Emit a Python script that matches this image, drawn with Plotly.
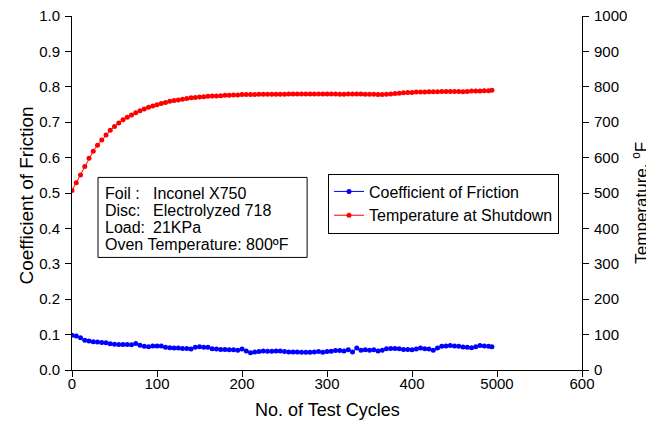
import plotly.graph_objects as go

# ---- data ----
cycles = [0, 5, 10, 15, 20, 25, 30, 35, 40, 45, 50, 55, 60, 65, 70, 75, 80, 85, 90, 95,
          100, 105, 110, 115, 120, 125, 130, 135, 140, 145, 150, 155, 160, 165, 170, 175, 180, 185, 190, 195,
          200, 205, 210, 215, 220, 225, 230, 235, 240, 245, 250, 255, 260, 265, 270, 275, 280, 285, 290, 295,
          300, 305, 310, 315, 320, 325, 330, 335, 340, 345, 350, 355, 360, 365, 370, 375, 380, 385, 390, 395,
          400, 405, 410, 415, 420, 425, 430, 435, 440, 445, 450, 455, 460, 465, 470, 475, 480, 485, 490, 494]

cof = [0.098, 0.096, 0.091, 0.084, 0.082, 0.080, 0.079, 0.078, 0.077, 0.074,
       0.073, 0.072, 0.072, 0.072, 0.071, 0.075, 0.070, 0.067, 0.066, 0.068,
       0.068, 0.068, 0.064, 0.063, 0.062, 0.062, 0.061, 0.061, 0.059, 0.064,
       0.066, 0.064, 0.064, 0.060, 0.059, 0.058, 0.058, 0.057, 0.057, 0.056,
       0.059, 0.054, 0.049, 0.051, 0.052, 0.054, 0.053, 0.053, 0.054, 0.054,
       0.052, 0.051, 0.051, 0.051, 0.050, 0.050, 0.050, 0.051, 0.052, 0.050,
       0.052, 0.053, 0.055, 0.055, 0.054, 0.057, 0.051, 0.062, 0.056, 0.057,
       0.056, 0.057, 0.054, 0.056, 0.060, 0.061, 0.061, 0.060, 0.058, 0.058,
       0.057, 0.059, 0.062, 0.060, 0.059, 0.056, 0.062, 0.067, 0.068, 0.069,
       0.068, 0.067, 0.065, 0.064, 0.063, 0.066, 0.069, 0.068, 0.067, 0.066]

temp = [507, 529, 551, 575, 598, 618, 635, 650, 664, 677,
        688, 698, 707, 714, 720, 727, 732, 737, 742, 746,
        749, 753, 756, 759, 761, 763, 765, 767, 769, 770,
        771, 772, 773, 774, 774, 775, 776, 776, 777, 777,
        778, 778, 778, 778, 779, 779, 779, 779, 779, 779,
        779, 780, 780, 780, 780, 780, 780, 780, 780, 780,
        780, 780, 780, 779, 779, 780, 780, 780, 780, 779,
        779, 779, 778, 778, 779, 780, 781, 782, 783, 784,
        784, 785, 785, 785, 786, 786, 786, 787, 787, 787,
        787, 787, 786, 787, 788, 788, 788, 789, 789, 790]

x_tickvals = [0, 100, 200, 300, 400, 500, 600]
x_ticktext = ["0", "100", "200", "300", "400", "5000", "600"]
y_tickvals = [0.0, 0.1, 0.2, 0.3, 0.4, 0.5, 0.6, 0.7, 0.8, 0.9, 1.0]
y2_tickvals = [0, 100, 200, 300, 400, 500, 600, 700, 800, 900, 1000]

info_labels = ["Foil :", "Disc:", "Load:"]
info_values = ["Inconel X750", "Electrolyzed 718", "21KPa"]
info_last = "Oven Temperature: 800ºF"

FONT = "Liberation Sans, Arial, sans-serif"

fig = go.Figure()
fig.add_trace(go.Scatter(x=cycles, y=cof, name="Coefficient of Friction",
                         mode="lines+markers", line=dict(color="#0000FF", width=1),
                         marker=dict(color="#0000FF", size=5), yaxis="y"))
fig.add_trace(go.Scatter(x=cycles, y=temp, name="Temperature at Shutdown",
                         mode="lines+markers", line=dict(color="#FF0000", width=1),
                         marker=dict(color="#FF0000", size=5), yaxis="y2"))

axis_common = dict(showgrid=False, zeroline=False, showline=True, linecolor="black",
                   linewidth=1, ticks="outside", ticklen=6, tickcolor="black",
                   ticklabeloverflow="allow",
                   tickfont=dict(family=FONT, size=15, color="black"))

fig.update_layout(
    width=654, height=431,
    margin=dict(l=64, r=80, t=8, b=69, autoexpand=False),
    paper_bgcolor="white", plot_bgcolor="white",
    font=dict(family=FONT, size=15, color="black"),
    xaxis=dict(range=[0, 600], tickvals=x_tickvals, ticktext=x_ticktext,
               ticklabelstandoff=-6, **axis_common),
    yaxis=dict(range=[0, 1], tickvals=y_tickvals, tickformat=".1f",
               ticklabelstandoff=2, **axis_common),
    yaxis2=dict(range=[0, 1000], tickvals=y2_tickvals, overlaying="y", side="right",
                ticklabelstandoff=2, **axis_common),
    legend=dict(x=0.502, y=0.555, xanchor="left", yanchor="top",
                bordercolor="black", borderwidth=1, bgcolor="white",
                font=dict(family=FONT, size=16), tracegroupgap=0),
    showlegend=True,
)

# axis titles
fig.add_annotation(xref="paper", yref="paper", x=0.5, y=-0.112, xanchor="center", yanchor="middle",
                   text="No. of Test Cycles", showarrow=False, font=dict(size=18))
fig.add_annotation(xref="paper", yref="paper", x=-0.090, y=0.493, xanchor="center", yanchor="middle",
                   text="Coefficient of Friction", textangle=-90, showarrow=False, font=dict(size=19))
fig.add_annotation(xref="paper", yref="paper", x=1.112, y=0.473, xanchor="center", yanchor="middle",
                   text="Temperature, <sup>o</sup>F", textangle=-90, showarrow=False, font=dict(size=17))

# info box
fig.add_shape(type="rect", xref="paper", yref="paper", x0=0.051, x1=0.461, y0=0.318, y1=0.544,
              line=dict(color="black", width=1), fillcolor="white", layer="above")
line_y = [0.4986, 0.4507, 0.4028, 0.3549]
for lab, val, yy in zip(info_labels, info_values, line_y):
    fig.add_annotation(xref="paper", yref="paper", x=0.061, y=yy, xanchor="left", yanchor="middle",
                       text=lab, showarrow=False, font=dict(size=16))
    fig.add_annotation(xref="paper", yref="paper", x=0.155, y=yy, xanchor="left", yanchor="middle",
                       text=val, showarrow=False, font=dict(size=16))
fig.add_annotation(xref="paper", yref="paper", x=0.061, y=line_y[3], xanchor="left", yanchor="middle",
                   text=info_last, showarrow=False, font=dict(size=16))

fig.write_html("out.html")
